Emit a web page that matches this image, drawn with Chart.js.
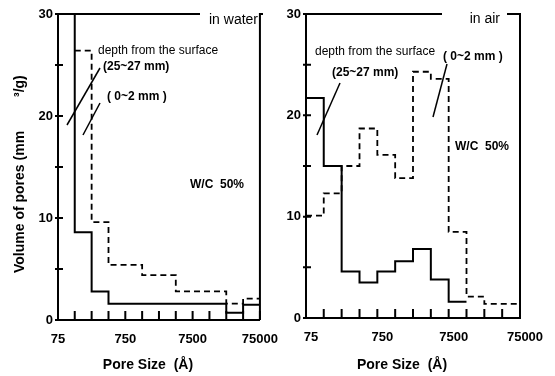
<!DOCTYPE html>
<html>
<head>
<meta charset="utf-8">
<script src="https://cdn.jsdelivr.net/npm/chart.js@4.4.1/dist/chart.umd.min.js"></script>
<style>
html, body { margin: 0; padding: 0; background: #fff; }
#wrap { position: relative; width: 555px; height: 376px; overflow: hidden; }
canvas { position: absolute; top: 0; }
#cAgua { left: 0; }
#cAire { left: 284px; }
</style>
</head>
<body>
<div id="wrap">
  <canvas id="cAgua" width="290" height="376"></canvas>
  <canvas id="cAire" width="271" height="376"></canvas>
</div>
<script>
// bordes de las clases de poro (cuartos de decada), en angstrom
const bordes = [75, 133, 237, 422, 750, 1334, 2372, 4218, 7500, 13337, 23717, 42176, 75000];
const etiquetasX = [75, 750, 7500, 75000];
const etiquetasY = [0, 10, 20, 30];

// en agua
const aguaProfundo = [40, 8.6, 2.8, 1.6, 1.6, 1.6, 1.6, 1.6, 1.6, 1.6, 0.7, 1.5];   // 25~27 mm
const aguaSuperficie = [null, 26.4, 9.6, 5.4, 5.4, 4.4, 4.4, 2.8, 2.8, 2.8, 1.6, 2.1]; // 0~2 mm

// en aire
const aireProfundo = [21.7, 15, 4.6, 3.5, 4.6, 5.6, 6.8, 3.8, 1.6, null, null, null];
const aireSuperficie = [10.1, 12.3, 15, 18.7, 16.1, 13.8, 24.3, 23.6, 8.5, 2.1, 1.4, 1.4];

// arma los puntos del histograma escalonado
function escalones(vals) {
    const pts = [];
    vals.forEach((v, i) => {
        if (v === null) {
            pts.push({ x: bordes[i], y: null });
            return;
        }
        pts.push({ x: bordes[i], y: v });
        if (i === vals.length - 1 || vals[i + 1] === null) {
            pts.push({ x: bordes[i + 1], y: v });
        }
    });
    return pts;
}

const marcoPlugin = {
    id: 'marco',
    afterDraw(chart, args, opts) {
        const ctx = chart.ctx;
        const ca = chart.chartArea;
        const sx = chart.scales.x;
        const sy = chart.scales.y;
        ctx.save();
        ctx.strokeStyle = '#000';
        ctx.lineWidth = 2;

        // marcas hacia adentro
        ctx.beginPath();
        sx.ticks.forEach(t => {
            const px = sx.getPixelForValue(t.value);
            ctx.moveTo(px, ca.bottom);
            ctx.lineTo(px, ca.bottom - 9);
        });
        sy.ticks.forEach(t => {
            const py = sy.getPixelForValue(t.value);
            ctx.moveTo(ca.left - 3, py);
            ctx.lineTo(ca.left + 5, py);
        });
        ctx.stroke();

        // borde superior con hueco para el rotulo, y borde derecho
        ctx.beginPath();
        ctx.moveTo(ca.left, ca.top);
        ctx.lineTo(ca.left + opts.hueco[0], ca.top);
        ctx.moveTo(ca.left + opts.hueco[1], ca.top);
        ctx.lineTo(ca.right, ca.top);
        ctx.lineTo(ca.right, ca.bottom);
        ctx.stroke();

        // lineas guia
        ctx.lineWidth = 1.5;
        opts.guias.forEach(g => {
            ctx.beginPath();
            ctx.moveTo(ca.left + g[0], ca.top + g[1]);
            ctx.lineTo(ca.left + g[2], ca.top + g[3]);
            ctx.stroke();
        });

        // textos
        ctx.fillStyle = '#000';
        ctx.textBaseline = 'middle';
        opts.textos.forEach(t => {
            ctx.font = t.font;
            ctx.textAlign = t.align || 'left';
            ctx.fillText(t.texto, ca.left + t.dx, ca.top + t.dy);
        });

        // titulo eje x
        ctx.font = 'bold 14px "Liberation Sans", Arial, sans-serif';
        ctx.textAlign = 'center';
        ctx.fillText('Pore Size  (Å)', (ca.left + ca.right) / 2 - 11, 365);

        // titulo eje y (solo panel izquierdo)
        if (opts.tituloY) {
            ctx.translate(20, 273);
            ctx.rotate(-Math.PI / 2);
            ctx.textAlign = 'left';
            ctx.fillText('Volume of pores (mm', 0, 0);
            ctx.fillText('³/g)', 176, 0);
        }
        ctx.restore();
    }
};

function crearPanel(id, profundo, superficie, ancho, alto, padRight, labelOffset, marco) {
    const fuenteTicks = { family: '"Liberation Sans", Arial, sans-serif', size: 13, weight: 'bold' };
    return new Chart(document.getElementById(id).getContext('2d'), {
        type: 'line',
        data: {
            datasets: [
                {
                    label: '25~27 mm',
                    data: escalones(profundo),
                    stepped: 'before',
                    borderColor: '#000',
                    borderWidth: 2,
                    pointRadius: 0,
                    spanGaps: false
                },
                {
                    label: '0~2 mm',
                    data: escalones(superficie),
                    stepped: 'before',
                    borderColor: '#000',
                    borderWidth: 1.8,
                    borderDash: [6, 4],
                    pointRadius: 0,
                    spanGaps: false
                }
            ]
        },
        options: {
            responsive: false,
            animation: false,
            layout: { padding: { top: 14, right: padRight, bottom: 0, left: 0 } },
            plugins: {
                legend: { display: false },
                tooltip: { enabled: false },
                marco: marco
            },
            scales: {
                x: {
                    type: 'logarithmic',
                    min: 75,
                    max: 75000,
                    afterBuildTicks: (scale) => { scale.ticks = bordes.map(v => ({ value: v })); },
                    afterFit: (scale) => { scale.height = alto; },
                    grid: { drawOnChartArea: false, drawTicks: false },
                    border: { display: true, color: '#000', width: 2 },
                    ticks: {
                        autoSkip: false,
                        maxRotation: 0,
                        padding: 12,
                        labelOffset: labelOffset,
                        color: '#000',
                        font: fuenteTicks,
                        callback: (v) => etiquetasX.includes(v) ? String(v) : ''
                    }
                },
                y: {
                    min: 0,
                    max: 30,
                    afterFit: (scale) => { scale.width = ancho; },
                    grid: { drawOnChartArea: false, drawTicks: false },
                    border: { display: true, color: '#000', width: 2 },
                    ticks: {
                        stepSize: 5,
                        padding: 5,
                        color: '#000',
                        font: fuenteTicks,
                        callback: (v) => etiquetasY.includes(v) ? String(v) : ''
                    }
                }
            }
        },
        plugins: [marcoPlugin]
    });
}

const fNormal = '12px "Liberation Sans", Arial, sans-serif';
const fNegrita = 'bold 12px "Liberation Sans", Arial, sans-serif';
const fRotulo = '14px "Liberation Sans", Arial, sans-serif';

crearPanel('cAgua', aguaProfundo, aguaSuperficie, 58, 56, 21, 0, {
    hueco: [142, 205],
    tituloY: true,
    guias: [[9, 111, 42, 54], [25, 121, 42, 89]],
    textos: [
        { texto: 'in water', dx: 200, dy: 6, font: fRotulo, align: 'right' },
        { texto: 'depth from the surface', dx: 40, dy: 37, font: fNormal },
        { texto: '(25~27 mm)', dx: 45, dy: 53, font: fNegrita },
        { texto: '( 0~2 mm )', dx: 49, dy: 83, font: fNegrita },
        { texto: 'W/C  50%', dx: 132, dy: 171, font: fNegrita }
    ]
});

crearPanel('cAire', aireProfundo, aireSuperficie, 22, 58, 35, 5, {
    hueco: [136, 201],
    tituloY: false,
    guias: [[34, 69, 11, 121], [141, 50, 127, 103]],
    textos: [
        { texto: 'in air', dx: 194, dy: 5, font: fRotulo, align: 'right' },
        { texto: 'depth from the surface', dx: 9, dy: 38, font: fNormal },
        { texto: '(25~27 mm)', dx: 26, dy: 59, font: fNegrita },
        { texto: '( 0~2 mm )', dx: 137, dy: 43, font: fNegrita },
        { texto: 'W/C  50%', dx: 149, dy: 133, font: fNegrita }
    ]
});
</script>
</body>
</html>
